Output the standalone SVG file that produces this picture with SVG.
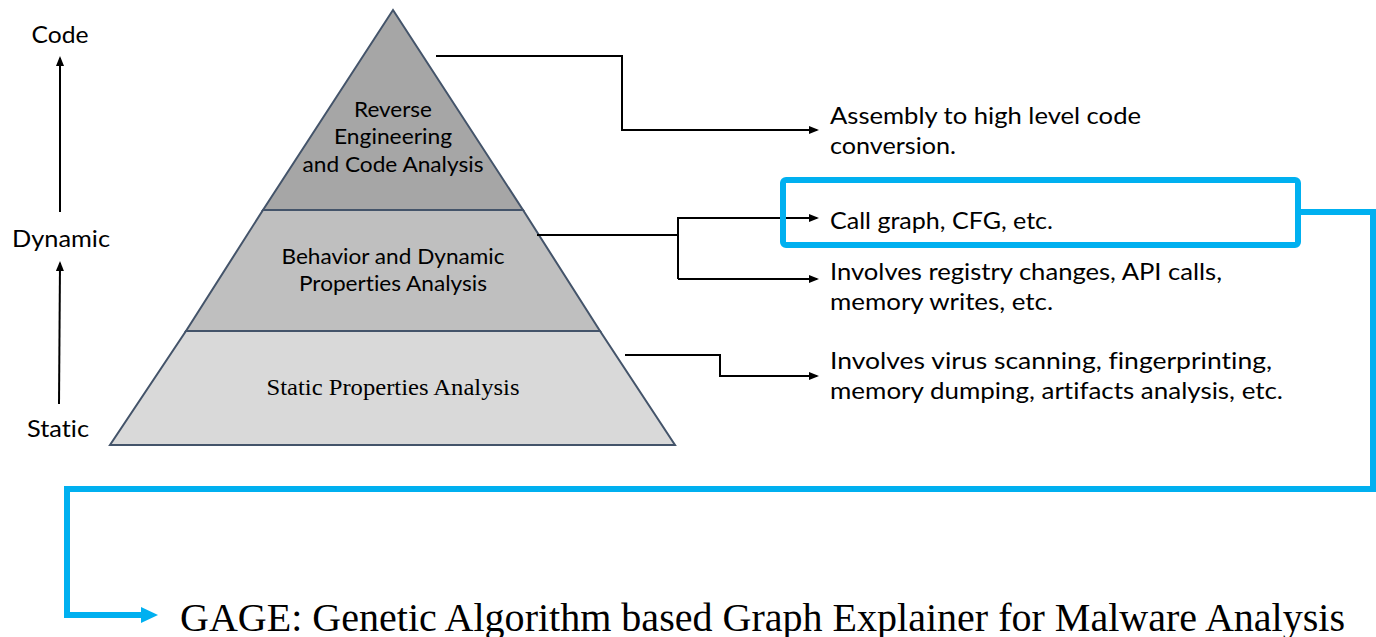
<svg xmlns="http://www.w3.org/2000/svg" width="1376" height="637" viewBox="0 0 1376 637">
<style>
.cal{font-family:Lato,"Open Sans","Liberation Sans",sans-serif;fill:#000;font-variant-ligatures:none}
.side{font-size:23px;text-anchor:middle}
.lvl{font-size:21px;text-anchor:middle}
.desc{font-size:23px}
.tms{font-family:"Liberation Serif","Times New Roman",serif;fill:#000}
.conn{fill:none;stroke:#000;stroke-width:2}
.blue{fill:none;stroke:#00b0f0;stroke-width:6;stroke-linejoin:miter}
.tier{stroke:#44546a;stroke-width:2}
</style>
<defs>
<marker id="ah" viewBox="0 0 10 8" refX="8" refY="4" markerWidth="10" markerHeight="8" markerUnits="userSpaceOnUse" orient="auto">
<path d="M0,0 L10,4 L0,8 z" fill="#000"/>
</marker>
<marker id="bh" viewBox="0 0 17 16" refX="4" refY="8" markerWidth="17" markerHeight="16" markerUnits="userSpaceOnUse" orient="auto">
<path d="M0,0 L17,8 L0,16 z" fill="#00b0f0"/>
</marker>
</defs>
<rect width="1376" height="637" fill="#fff"/>

<g id="axis">
<text class="cal side" x="60" y="43" textLength="57" lengthAdjust="spacingAndGlyphs">Code</text>
<line x1="60" y1="212" x2="60" y2="58" class="conn" marker-end="url(#ah)"/>
<text class="cal side" x="61" y="247" textLength="98" lengthAdjust="spacingAndGlyphs">Dynamic</text>
<line x1="59" y1="404" x2="60" y2="263" class="conn" marker-end="url(#ah)"/>
<text class="cal side" x="58" y="437" textLength="62" lengthAdjust="spacingAndGlyphs">Static</text>
</g>

<g id="tier-bottom">
<polygon class="tier" points="186,331 600,331 675,445 110,445" fill="#d9d9d9"/>
<text class="tms" x="393" y="395" font-size="24" text-anchor="middle" textLength="253" lengthAdjust="spacingAndGlyphs">Static Properties Analysis</text>
</g>
<g id="tier-middle">
<polygon class="tier" points="263,210 523,210 600,331 186,331" fill="#bfbfbf"/>
<text class="cal lvl" x="393" y="264" textLength="223" lengthAdjust="spacingAndGlyphs">Behavior and Dynamic</text>
<text class="cal lvl" x="393" y="291" textLength="188" lengthAdjust="spacingAndGlyphs">Properties Analysis</text>
</g>
<g id="tier-top">
<polygon class="tier" points="393,10 523,210 263,210" fill="#a6a6a6"/>
<text class="cal lvl" x="393" y="117" textLength="78" lengthAdjust="spacingAndGlyphs">Reverse</text>
<text class="cal lvl" x="393" y="144" textLength="118" lengthAdjust="spacingAndGlyphs">Engineering</text>
<text class="cal lvl" x="393" y="172" textLength="181" lengthAdjust="spacingAndGlyphs">and Code Analysis</text>
</g>

<g id="connectors">
<polyline class="conn" points="436,56 622,56 622,130 817,130" marker-end="url(#ah)"/>
<line class="conn" x1="537" y1="235" x2="678" y2="235"/>
<polyline class="conn" points="678,279 678,218 817,218" marker-end="url(#ah)"/>
<polyline class="conn" points="678,279 817,279" marker-end="url(#ah)"/>
<polyline class="conn" points="625,355 720,355 720,376 817,376" marker-end="url(#ah)"/>
<polyline class="blue" points="1298,212 1373,212 1373,489 67,489 67,615 145,615" marker-end="url(#bh)"/>
</g>

<g id="desc-code">
<text class="cal desc" x="830" y="124" textLength="311" lengthAdjust="spacingAndGlyphs">Assembly to high level code</text>
<text class="cal desc" x="830" y="154" textLength="126" lengthAdjust="spacingAndGlyphs">conversion.</text>
</g>
<g id="desc-callgraph">
<rect x="783" y="180" width="515" height="65" rx="3" class="blue"/>
<text class="cal desc" x="830" y="229" textLength="223" lengthAdjust="spacingAndGlyphs">Call graph, CFG, etc.</text>
</g>
<g id="desc-dynamic">
<text class="cal desc" x="830" y="280" textLength="392" lengthAdjust="spacingAndGlyphs">Involves registry changes, API calls,</text>
<text class="cal desc" x="830" y="310" textLength="223" lengthAdjust="spacingAndGlyphs">memory writes, etc.</text>
</g>
<g id="desc-static">
<text class="cal desc" x="830" y="369" textLength="442" lengthAdjust="spacingAndGlyphs">Involves virus scanning, fingerprinting,</text>
<text class="cal desc" x="830" y="399" textLength="453" lengthAdjust="spacingAndGlyphs">memory dumping, artifacts analysis, etc.</text>
</g>
<g id="gage">
<text class="tms" x="180" y="631" font-size="39" textLength="1165" lengthAdjust="spacingAndGlyphs">GAGE: Genetic Algorithm based Graph Explainer for Malware Analysis</text>
</g>
</svg>
